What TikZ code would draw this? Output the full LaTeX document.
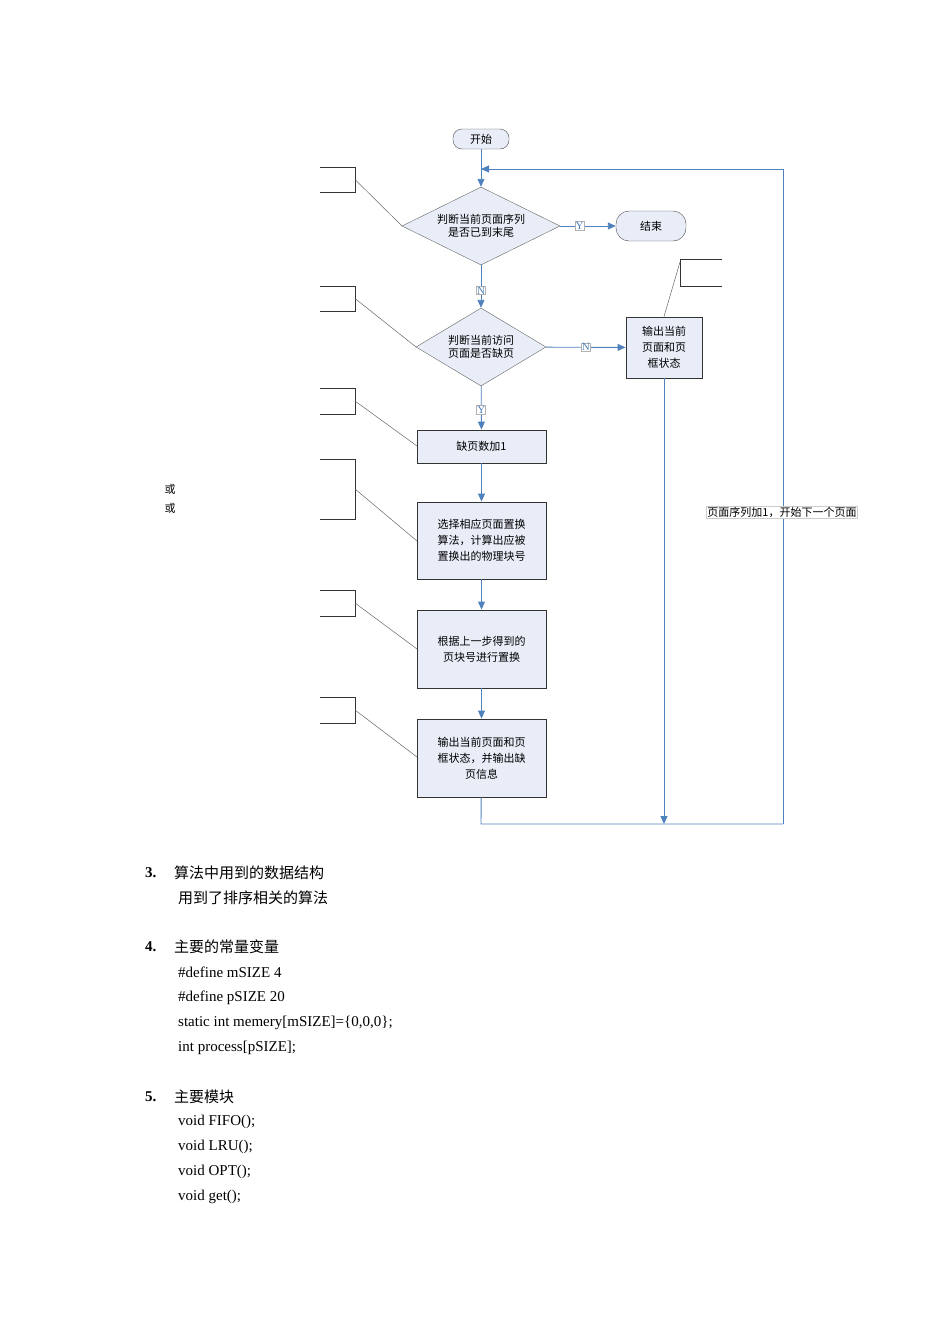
\documentclass[tikz,border=0pt]{standalone}
\usepackage{fontspec}
\setmainfont{Liberation Serif}
\newfontfamily\cjk{Noto Sans CJK SC}
\usetikzlibrary{shapes.geometric,arrows.meta}
\definecolor{fill}{RGB}{232,237,248}
\definecolor{blu}{RGB}{79,129,189}
\tikzset{x=1pt,y=-1pt,
 box/.style={draw=black!80,fill=fill,line width=0.9pt,minimum width=129pt,align=center,font=\cjk\fontsize{11}{17}\selectfont,inner sep=2pt},
 dia/.style={diamond,draw=black!60,fill=fill,aspect=2,align=center,inner sep=0pt,font=\cjk\fontsize{11}{17}\selectfont},
 term/.style={draw=black!70,fill=fill,rounded corners=9pt,align=center,font=\cjk\fontsize{11}{13}\selectfont},
 ar/.style={blu,line width=0.9pt,-{Triangle[length=8pt,width=7pt]}},
 ln/.style={blu,line width=0.9pt},
 lab/.style={draw=black!30,fill=white,inner sep=0.5pt,font=\fontsize{11}{12}\selectfont},
 call/.style={draw=black!80,line width=0.8pt},
 cl/.style={draw=black!60,line width=0.5pt},
 txt/.style={anchor=west,inner sep=0pt,font=\fontsize{15}{18}\selectfont}}
\begin{document}
\begin{tikzpicture}
\useasboundingbox (0,0) rectangle (950,1344);
\node[term,minimum width=56pt,minimum height=20pt] (start) at (481,139) {开始};
\node[dia,minimum width=158pt,minimum height=78pt] (d1) at (481,226) {判断当前页面序列\\[-4pt]是否已到末尾};
\node[term,minimum width=70pt,minimum height=30pt,rounded corners=13pt] (end) at (651,226) {结束};
\node[dia,minimum width=130pt,minimum height=78pt] (d2) at (481,347) {判断当前访问\\[-4pt]页面是否缺页};
\node[box,minimum width=76pt,minimum height=61pt] (out) at (664,347.5) {输出当前\\[-1pt]页面和页\\[-1pt]框状态};
\node[box,minimum height=33pt] (b1) at (481.5,446.5) {缺页数加1};
\node[box,minimum height=77pt] (b2) at (481.5,540.5) {选择相应页面置换\\[-1pt]算法，计算出应被\\[-1pt]置换出的物理块号};
\node[box,minimum height=78pt] (b3) at (481.5,649) {根据上一步得到的\\[-1pt]页块号进行置换};
\node[box,minimum height=78pt] (b4) at (481.5,758) {输出当前页面和页\\[-1pt]框状态，并输出缺\\[-1pt]页信息};
\coordinate (j) at (481,169);
\coordinate (r1) at (783,169);
\coordinate (r2) at (783,824);
\coordinate (bl) at (481,824);
\coordinate (bo) at (664,824);
\draw[ln] (start) -- (j);
\draw[ar] (j) -- (d1);
\draw[ar] (r2) -- (r1) -- (j);
\draw[ln] (b4) -- (bl) -- (r2);
\draw[ar] (out) -- (bo);
\draw[ar] (d1) -- (end) node[lab,pos=0.35] {Y};
\draw[ar] (d1) -- (d2) node[lab,pos=0.6] {N};
\draw[ar] (d2) -- (out) node[lab,pos=0.5] {N};
\draw[ar] (d2) -- (b1) node[lab,pos=0.55] {Y};
\draw[ar] (b1) -- (b2);
\draw[ar] (b2) -- (b3);
\draw[ar] (b3) -- (b4);
\node[lab,draw=black!20,font=\cjk\fontsize{11}{12}\selectfont,inner sep=1pt] (loop) at (782,512) {页面序列加1，开始下一个页面};
% callouts
\foreach \t/\b/\tx/\ty [count=\i] in {167/192/402/226, 286/311/416/347, 388/414/417/446, 459/519/417/541, 590/616/417/649, 697/723/417/757}{
 \coordinate (c\i) at (355,{(\t+\b)/2});
 \coordinate (t\i) at (\tx,\ty);
 \draw[call] (320,\t) -- (355,\t) -- (355,\b) -- (320,\b);
 \draw[cl] (c\i) -- (t\i);
}
\coordinate (rc) at (680,262);
\draw[call] (722,259) -- (680,259) -- (680,286) -- (722,286);
\draw[cl] (rc) -- (out.north);
\node[font=\cjk\fontsize{11}{13}\selectfont] (o1) at (170,489) {或};
\node[font=\cjk\fontsize{11}{13}\selectfont] (o2) at (170,508) {或};
% text
\node[txt,font=\bfseries\fontsize{15}{18}\selectfont] (n3) at (145,873) {3.};
\node[txt,font=\cjk\fontsize{15}{18}\selectfont] (h3) at (174,873) {算法中用到的数据结构};
\node[txt,font=\cjk\fontsize{15}{18}\selectfont] (l3) at (178,898) {用到了排序相关的算法};
\node[txt,font=\bfseries\fontsize{15}{18}\selectfont] (n4) at (145,947) {4.};
\node[txt,font=\cjk\fontsize{15}{18}\selectfont] (h4) at (174,947) {主要的常量变量};
\node[txt] (a1) at (178,972) {\#define mSIZE 4};
\node[txt] (a2) at (178,998) {\#define pSIZE 20};
\node[txt] (a3) at (178,1023) {static int memery[mSIZE]=\{0,0,0\};};
\node[txt] (a4) at (178,1048) {int process[pSIZE];};
\node[txt,font=\bfseries\fontsize{15}{18}\selectfont] (n5) at (145,1097) {5.};
\node[txt,font=\cjk\fontsize{15}{18}\selectfont] (h5) at (174,1097) {主要模块};
\node[txt] (m1) at (178,1122) {void FIFO();};
\node[txt] (m2) at (178,1147) {void LRU();};
\node[txt] (m3) at (178,1172) {void OPT();};
\node[txt] (m4) at (178,1197) {void get();};
\end{tikzpicture}
\end{document}
